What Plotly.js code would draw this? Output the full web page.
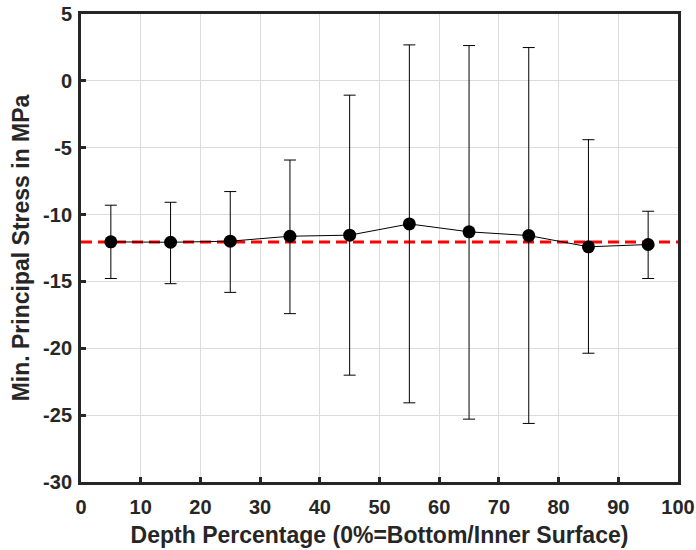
<!DOCTYPE html>
<html>
<head>
<meta charset="utf-8">
<script src="https://cdn.plot.ly/plotly-3.0.1.min.js"></script>
<style>html,body{margin:0;padding:0;background:#fff;}#chart{width:696px;height:550px;}</style>
</head>
<body>
<div id="chart"></div>
<script>
const depth = [5, 15, 25, 35, 45, 55, 65, 75, 85, 95];
const meanStress = [-12.04, -12.07, -11.99, -11.62, -11.54, -10.70, -11.29, -11.57, -12.41, -12.24];
const upperStress = [-9.30, -9.08, -8.28, -5.92, -1.07, 2.69, 2.64, 2.49, -4.40, -9.75];
const lowerStress = [-14.78, -15.17, -15.82, -17.41, -22.01, -24.08, -25.30, -25.62, -20.37, -14.78];
const refX = [0, 100];
const refLevel = -12.05;
const xTicks = [0, 10, 20, 30, 40, 50, 60, 70, 80, 90, 100];
const yTicks = [-30, -25, -20, -15, -10, -5, 0, 5];

const errPlus = meanStress.map((m, i) => upperStress[i] - m);
const errMinus = meanStress.map((m, i) => m - lowerStress[i]);

const FONT = 'Liberation Sans, Arial, sans-serif';

const traces = [
  {
    x: refX, y: refX.map(() => refLevel), mode: 'lines', type: 'scatter',
    line: {color: '#ff0000', width: 3, dash: '11px,6px'}, hoverinfo: 'skip', showlegend: false
  },
  {
    x: depth, y: meanStress, mode: 'lines+markers', type: 'scatter',
    line: {color: '#000000', width: 1},
    marker: {color: '#000000', size: 13},
    error_y: {type: 'data', symmetric: false, array: errPlus, arrayminus: errMinus, color: '#000000', thickness: 1, width: 6},
    showlegend: false
  }
];

const axisCommon = {
  showline: true, linecolor: '#262626', linewidth: 3, mirror: true,
  ticks: 'inside', ticklen: 5, tickwidth: 3, tickcolor: '#262626',
  showgrid: true, gridcolor: '#dcdcdc', gridwidth: 1, zeroline: false,
  tickfont: {family: FONT, size: 20, color: '#262626', weight: 700}
};

const layout = {
  width: 696, height: 550,
  margin: {l: 81, r: 18, t: 14, b: 68},
  paper_bgcolor: '#ffffff', plot_bgcolor: '#ffffff',
  xaxis: Object.assign({}, axisCommon, {
    range: [0, 100], tickmode: 'array', tickvals: xTicks,
    ticktext: xTicks.map(v => '<b>' + String(v) + '</b>'),
    ticklabelstandoff: 5,
    title: {text: '<b>Depth Percentage (0%=Bottom/Inner Surface)</b>', font: {family: FONT, size: 23, color: '#262626'}, standoff: 10}
  }),
  yaxis: Object.assign({}, axisCommon, {
    range: [-30, 5], tickmode: 'array', tickvals: yTicks,
    ticktext: yTicks.map(v => '<b>' + String(v) + '</b>'),
    ticklabelstandoff: 2,
    title: {text: '<b>Min. Principal Stress in MPa</b>', font: {family: FONT, size: 23, color: '#262626'}, standoff: 8}
  })
};

Plotly.newPlot('chart', traces, layout, {displayModeBar: false, staticPlot: true});
</script>
</body>
</html>
